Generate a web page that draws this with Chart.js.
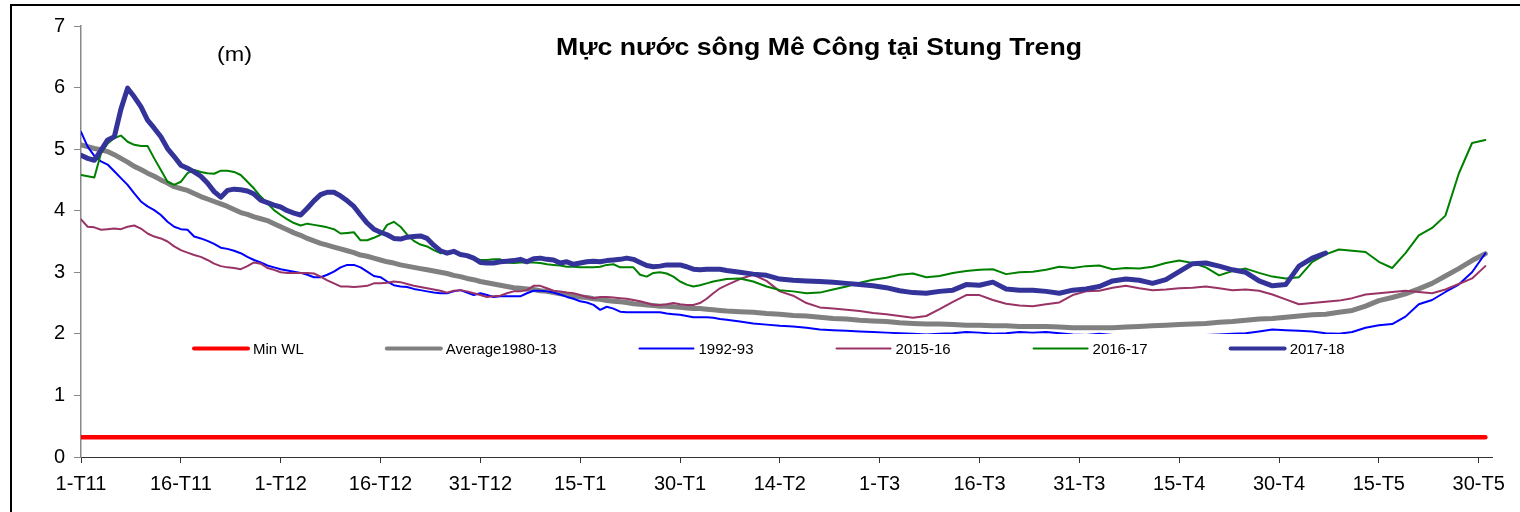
<!DOCTYPE html>
<html>
<head>
<meta charset="utf-8">
<script src="https://cdn.jsdelivr.net/npm/chart.js@4.4.1/dist/chart.umd.min.js"></script>
<style>
  html, body { margin: 0; padding: 0; background: #fff; }
  canvas { display: block; }
</style>
</head>
<body>
<canvas id="wlChart" width="1520" height="512"></canvas>
<script>
// x = days from 1-T11 (daily up to day 97, then every 2nd day)
var days = [];
for (var d = 0; d <= 97; d++) days.push(d);
for (var d2 = 99; d2 <= 211; d2 += 2) days.push(d2);

var tickLabels = ['1-T11', '16-T11', '1-T12', '16-T12', '31-T12', '15-T1', '30-T1', '14-T2',
                  '1-T3', '16-T3', '31-T3', '15-T4', '30-T4', '15-T5', '30-T5'];

var minWLDays = [0, 211];
var minWL = [0.32, 0.32];

var avg8013 = [5.07,5.04,5.01,4.99,4.96,4.91,4.85,4.79,4.72,4.67,
  4.61,4.56,4.50,4.45,4.39,4.36,4.33,4.28,4.23,4.19,
  4.15,4.11,4.07,4.02,3.97,3.94,3.90,3.87,3.84,3.79,
  3.74,3.69,3.64,3.60,3.55,3.51,3.47,3.44,3.41,3.38,
  3.35,3.32,3.28,3.26,3.23,3.20,3.17,3.15,3.12,3.10,
  3.08,3.06,3.04,3.02,3.00,2.98,2.95,2.93,2.90,2.88,
  2.85,2.83,2.81,2.79,2.77,2.75,2.74,2.73,2.72,2.70,
  2.69,2.67,2.65,2.64,2.62,2.60,2.59,2.57,2.56,2.54,
  2.53,2.52,2.51,2.49,2.48,2.47,2.46,2.45,2.45,2.44,
  2.43,2.42,2.41,2.41,2.40,2.39,2.38,2.37,
  2.36,2.35,2.33,2.32,2.30,2.29,2.27,2.25,2.24,2.22,
  2.21,2.20,2.18,2.17,2.16,2.16,2.15,2.14,2.14,2.13,
  2.13,2.12,2.12,2.12,2.11,2.10,2.10,2.10,2.10,2.11,
  2.12,2.13,2.14,2.15,2.16,2.17,2.19,2.20,2.22,2.24,
  2.25,2.27,2.29,2.31,2.32,2.35,2.38,2.45,2.54,2.59,
  2.65,2.73,2.82,2.94,3.06,3.19,3.30];

var wl9293 = [5.28,5.04,4.89,4.80,4.75,4.64,4.53,4.42,4.28,4.15,
  4.07,4.01,3.93,3.82,3.74,3.70,3.69,3.58,3.55,3.51,
  3.46,3.40,3.38,3.35,3.31,3.25,3.20,3.16,3.11,3.08,
  3.05,3.03,3.01,2.99,2.96,2.92,2.92,2.96,3.01,3.08,
  3.12,3.12,3.08,3.01,2.94,2.92,2.85,2.79,2.77,2.76,
  2.73,2.71,2.69,2.67,2.66,2.66,2.69,2.71,2.67,2.63,
  2.66,2.63,2.60,2.61,2.61,2.61,2.61,2.66,2.70,2.70,
  2.69,2.67,2.64,2.60,2.57,2.53,2.51,2.47,2.39,2.44,
  2.41,2.36,2.35,2.35,2.35,2.35,2.35,2.35,2.33,2.32,
  2.31,2.29,2.27,2.27,2.27,2.26,2.24,2.23,
  2.20,2.17,2.15,2.13,2.12,2.10,2.07,2.06,2.05,2.04,
  2.03,2.02,2.01,2.00,1.99,2.00,2.01,2.03,2.02,2.00,
  2.01,2.03,2.02,2.03,2.01,1.99,1.98,2.00,1.98,1.97,
  1.97,1.96,1.97,1.96,1.97,1.98,1.99,2.00,2.01,2.04,
  2.07,2.06,2.05,2.04,2.01,2.00,2.03,2.10,2.14,2.16,
  2.28,2.48,2.55,2.68,2.80,3.00,3.31];

var wl1516 = [3.86,3.74,3.73,3.69,3.70,3.71,3.70,3.74,3.76,3.71,
  3.63,3.58,3.55,3.50,3.42,3.36,3.32,3.28,3.25,3.20,
  3.14,3.10,3.08,3.07,3.05,3.10,3.16,3.14,3.07,3.04,
  3.00,2.99,2.99,2.99,2.99,2.98,2.93,2.87,2.82,2.77,
  2.77,2.76,2.77,2.78,2.82,2.82,2.83,2.85,2.84,2.81,
  2.78,2.76,2.74,2.72,2.70,2.67,2.70,2.71,2.69,2.66,
  2.63,2.60,2.61,2.62,2.66,2.69,2.69,2.71,2.78,2.78,
  2.74,2.70,2.69,2.67,2.66,2.63,2.60,2.58,2.60,2.60,
  2.59,2.58,2.57,2.55,2.53,2.50,2.47,2.47,2.48,2.50,
  2.48,2.47,2.47,2.50,2.57,2.66,2.74,2.79,
  2.89,2.96,2.86,2.69,2.62,2.50,2.43,2.41,2.39,2.37,
  2.34,2.32,2.29,2.26,2.29,2.40,2.52,2.63,2.63,2.55,
  2.49,2.46,2.45,2.48,2.51,2.63,2.69,2.70,2.75,2.78,
  2.74,2.71,2.72,2.74,2.75,2.77,2.74,2.71,2.72,2.70,
  2.64,2.56,2.48,2.50,2.52,2.54,2.58,2.64,2.66,2.68,
  2.70,2.68,2.66,2.72,2.81,2.90,3.10];

var wl1617 = [4.58,4.56,4.54,4.93,5.09,5.18,5.22,5.12,5.07,5.05,
  5.05,4.85,4.66,4.47,4.42,4.47,4.61,4.66,4.63,4.61,
  4.60,4.65,4.65,4.63,4.58,4.47,4.36,4.23,4.12,4.01,
  3.93,3.86,3.80,3.76,3.79,3.77,3.75,3.73,3.70,3.63,
  3.64,3.65,3.52,3.52,3.56,3.61,3.77,3.82,3.74,3.61,
  3.51,3.45,3.42,3.36,3.31,3.32,3.34,3.29,3.25,3.23,
  3.20,3.20,3.21,3.21,3.16,3.15,3.16,3.16,3.16,3.15,
  3.13,3.12,3.11,3.09,3.09,3.08,3.08,3.08,3.09,3.12,
  3.13,3.08,3.08,3.08,2.96,2.93,2.99,3.00,2.98,2.93,
  2.85,2.80,2.77,2.79,2.82,2.85,2.87,2.89,
  2.90,2.85,2.77,2.71,2.69,2.66,2.67,2.72,2.77,2.83,
  2.88,2.91,2.96,2.98,2.92,2.94,2.99,3.02,3.04,3.05,
  2.97,3.00,3.01,3.04,3.09,3.07,3.10,3.11,3.05,3.07,
  3.06,3.09,3.15,3.19,3.15,3.08,2.95,3.02,3.06,2.99,
  2.93,2.90,2.92,3.17,3.29,3.37,3.35,3.33,3.17,3.07,
  3.31,3.60,3.72,3.92,4.60,5.10,5.15];

var wl1718 = [4.90,4.85,4.82,4.98,5.15,5.20,5.65,5.99,5.85,5.69,
  5.47,5.34,5.20,5.01,4.88,4.74,4.69,4.63,4.56,4.45,
  4.31,4.22,4.33,4.35,4.34,4.32,4.27,4.17,4.13,4.09,
  4.06,4.00,3.96,3.93,4.04,4.16,4.26,4.30,4.30,4.24,
  4.16,4.07,3.93,3.80,3.70,3.65,3.61,3.55,3.54,3.57,
  3.58,3.59,3.55,3.44,3.35,3.31,3.34,3.29,3.27,3.23,
  3.16,3.15,3.15,3.17,3.18,3.19,3.21,3.17,3.22,3.23,
  3.21,3.20,3.15,3.17,3.13,3.15,3.17,3.18,3.17,3.19,
  3.20,3.21,3.23,3.21,3.16,3.11,3.09,3.10,3.12,3.12,
  3.12,3.09,3.05,3.04,3.05,3.05,3.05,3.03,
  3.00,2.97,2.95,2.89,2.87,2.86,2.85,2.84,2.82,2.80,
  2.78,2.75,2.70,2.67,2.66,2.69,2.71,2.80,2.79,2.84,
  2.73,2.71,2.71,2.69,2.66,2.71,2.73,2.77,2.86,2.89,
  2.87,2.82,2.88,3.01,3.14,3.15,3.10,3.04,3.00,2.86,
  2.78,2.80,3.10,3.23,3.31,
  null,null,null,null,null,null,null,null,null,null,null,null];

function pts(xs, ys) {
  return xs.map(function (x, i) { return { x: x, y: ys[i] }; })
           .filter(function (p) { return p.y !== null; });
}

var FONT = "'Liberation Sans', Arial, sans-serif";

// page decorations: frame, title, unit, legend box inside the plot
var decor = {
  id: 'decor',
  beforeDraw: function (chart) {
    var ctx = chart.ctx;
    ctx.save();
    ctx.fillStyle = '#fff';
    ctx.fillRect(0, 0, chart.width, chart.height);
    ctx.strokeStyle = '#000';
    ctx.lineWidth = 2;
    ctx.strokeRect(11, 5, chart.width + 20, chart.height + 20);
    ctx.restore();
  },
  afterDatasetsDraw: function (chart) {
    var ctx = chart.ctx;
    ctx.save();
    // legend box (white fill hides what is under it, as in the original)
    ctx.fillStyle = '#fff';
    ctx.fillRect(185, 334, 1185, 30);
    ctx.font = '15px ' + FONT;
    ctx.textBaseline = 'middle';
    var x = 194, y = 348.5;
    chart.data.datasets.forEach(function (ds) {
      ctx.strokeStyle = ds.borderColor;
      ctx.lineWidth = Math.min(ds.borderWidth, 4);
      ctx.lineCap = 'round';
      ctx.beginPath();
      ctx.moveTo(x, y);
      ctx.lineTo(x + 54, y);
      ctx.stroke();
      ctx.fillStyle = '#000';
      ctx.fillText(ds.label, x + 59, y + 1);
      x += 54 + 5 + ctx.measureText(ds.label).width + 83;
    });

    // title
    var title = 'Mực nước sông Mê Công tại Stung Treng';
    ctx.font = 'bold 23px ' + FONT;
    ctx.textBaseline = 'alphabetic';
    var tw = ctx.measureText(title).width;
    ctx.translate(556, 55);
    ctx.scale(526 / tw, 1);
    ctx.fillText(title, 0, 0);
    ctx.setTransform(1, 0, 0, 1, 0, 0);

    // unit
    ctx.font = '21px ' + FONT;
    var uw = ctx.measureText('(m)').width;
    ctx.translate(217, 61);
    ctx.scale(35 / uw, 1);
    ctx.fillText('(m)', 0, 0);
    ctx.restore();
  }
};

var ctx = document.getElementById('wlChart').getContext('2d');
var wlChart = new Chart(ctx, {
  type: 'line',
  data: {
    datasets: [
      { label: 'Min WL', data: pts(minWLDays, minWL), borderColor: '#ff0000', borderWidth: 4.5, order: 6 },
      { label: 'Average1980-13', data: pts(days, avg8013), borderColor: '#808080', borderWidth: 5, order: 5 },
      { label: '1992-93', data: pts(days, wl9293), borderColor: '#0000ff', borderWidth: 2, order: 4 },
      { label: '2015-16', data: pts(days, wl1516), borderColor: '#993366', borderWidth: 2, order: 3 },
      { label: '2016-17', data: pts(days, wl1617), borderColor: '#008000', borderWidth: 2, order: 2 },
      { label: '2017-18', data: pts(days, wl1718), borderColor: '#333399', borderWidth: 5, order: 1 }
    ]
  },
  options: {
    responsive: false,
    animation: false,
    layout: { padding: { top: 26, right: 28, left: 0, bottom: 0 } },
    elements: {
      point: { radius: 0 },
      line: { tension: 0, fill: false, borderJoinStyle: 'round', borderCapStyle: 'round' }
    },
    plugins: {
      legend: { display: false },
      tooltip: { enabled: false }
    },
    scales: {
      x: {
        type: 'linear',
        min: 0,
        max: 212,
        afterBuildTicks: function (scale) {
          scale.ticks = tickLabels.map(function (t, i) { return { value: i * 15 }; });
        },
        afterFit: function (scale) { scale.height = 55; },
        ticks: {
          autoSkip: false,
          maxRotation: 0,
          padding: 9,
          color: '#000',
          font: { family: FONT, size: 20 },
          callback: function (v) { return tickLabels[Math.round(v / 15)]; }
        },
        grid: { drawOnChartArea: false, drawTicks: true, tickLength: 6, color: '#333' },
        border: { display: true, color: '#333', width: 1 }
      },
      y: {
        min: 0,
        max: 7,
        afterFit: function (scale) { scale.width = 81; },
        ticks: {
          stepSize: 1,
          padding: 9,
          color: '#000',
          font: { family: FONT, size: 20 }
        },
        grid: { drawOnChartArea: false, drawTicks: true, tickLength: 7, color: '#888' },
        border: { display: true, color: '#888', width: 1.5 }
      }
    }
  },
  plugins: [decor]
});
</script>
</body>
</html>
